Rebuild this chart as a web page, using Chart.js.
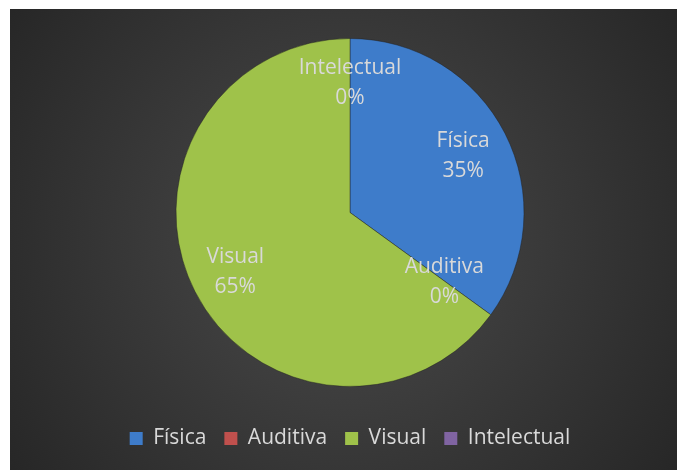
<!DOCTYPE html>
<html>
<head>
<meta charset="utf-8">
<script src="https://cdn.jsdelivr.net/npm/chart.js@4/dist/chart.umd.min.js"></script>
<style>
  html, body { margin: 0; padding: 0; background: #ffffff; }
  #wrap { position: absolute; left: 10px; top: 9px; width: 667px; height: 461px; }
</style>
</head>
<body>
<div id="wrap"><canvas id="pieChart" width="667" height="461"></canvas></div>
<script>
// chart data
const categories = ['Física', 'Auditiva', 'Visual', 'Intelectual'];
const values = [35, 0, 65, 0];
const sliceColors = ['#3e7cca', '#c0504d', '#9fc24a', '#8064a2'];
const rimColors = ['#5a97e0', '#d06663', '#b6d765', '#9880bb'];

// how far out (fraction of radius) each data label sits, like Excel's best fit
const labelRadius = [0.73, 0.67, 0.74, 0.75];

const fontFamily = 'Open Sans, Lato, sans-serif';
const textColor = '#d9d9d9';

// dark radial background behind everything
const backgroundPlugin = {
  id: 'bg',
  beforeDraw(chart) {
    const c = chart.ctx;
    const w = chart.width, h = chart.height;
    const g = c.createRadialGradient(w / 2, h / 2, 0, w / 2, h / 2, Math.max(w, h) * 0.62);
    g.addColorStop(0, '#4b4b4b');
    g.addColorStop(1, '#262626');
    c.save();
    c.fillStyle = g;
    c.fillRect(0, 0, w, h);
    c.restore();
  },
};

// label + percentage inside each slice
const sliceLabels = {
  id: 'sliceLabels',
  afterDatasetsDraw(chart) {
    const c = chart.ctx;
    const meta = chart.getDatasetMeta(0);
    const total = values.reduce((a, b) => a + b, 0);
    c.save();
    c.fillStyle = textColor;
    c.font = '21px ' + fontFamily;
    c.textAlign = 'center';
    c.textBaseline = 'middle';
    meta.data.forEach((arc, i) => {
      const mid = (arc.startAngle + arc.endAngle) / 2;
      const r = arc.outerRadius * labelRadius[i];
      const x = arc.x + Math.cos(mid) * r;
      const y = arc.y + Math.sin(mid) * r + 1;
      const pct = Math.round((values[i] / total) * 100) + '%';
      c.fillText(categories[i], x, y - 15);
      c.fillText(pct, x, y + 15);
    });
    c.restore();
  },
};

function sliceFill(context) {
  const chart = context.chart;
  const i = context.dataIndex;
  const arc = chart.getDatasetMeta(0).data[i];
  if (!arc || !arc.outerRadius) return sliceColors[i];
  const g = chart.ctx.createRadialGradient(arc.x, arc.y, 0, arc.x, arc.y, arc.outerRadius);
  g.addColorStop(0, sliceColors[i]);
  g.addColorStop(0.84, sliceColors[i]);
  g.addColorStop(0.95, rimColors[i]);
  g.addColorStop(1, sliceColors[i]);
  return g;
}

const ctx = document.getElementById('pieChart').getContext('2d');
const pieChart = new Chart(ctx, {
  type: 'pie',
  data: {
    labels: categories,
    datasets: [
      {
        data: values,
        backgroundColor: sliceFill,
        borderColor: 'rgba(30,30,30,0.45)',
        borderWidth: 1,
      },
    ],
  },
  options: {
    responsive: false,
    animation: false,
    radius: 174,
    layout: { padding: { left: 13, right: 0, top: 6, bottom: 11 } },
    plugins: {
      tooltip: { enabled: false },
      legend: {
        position: 'bottom',
        labels: {
          color: textColor,
          font: { family: fontFamily, size: 21 },
          boxWidth: 13,
          boxHeight: 13,
          padding: 18,
          generateLabels(chart) {
            const items = Chart.overrides.pie.plugins.legend.labels.generateLabels(chart);
            items.forEach((it, i) => {
              it.fillStyle = sliceColors[i];
              it.strokeStyle = sliceColors[i];
              it.lineWidth = 0;
              it.hidden = false;
            });
            return items;
          },
        },
      },
    },
  },
  plugins: [backgroundPlugin, sliceLabels],
});
</script>
</body>
</html>
